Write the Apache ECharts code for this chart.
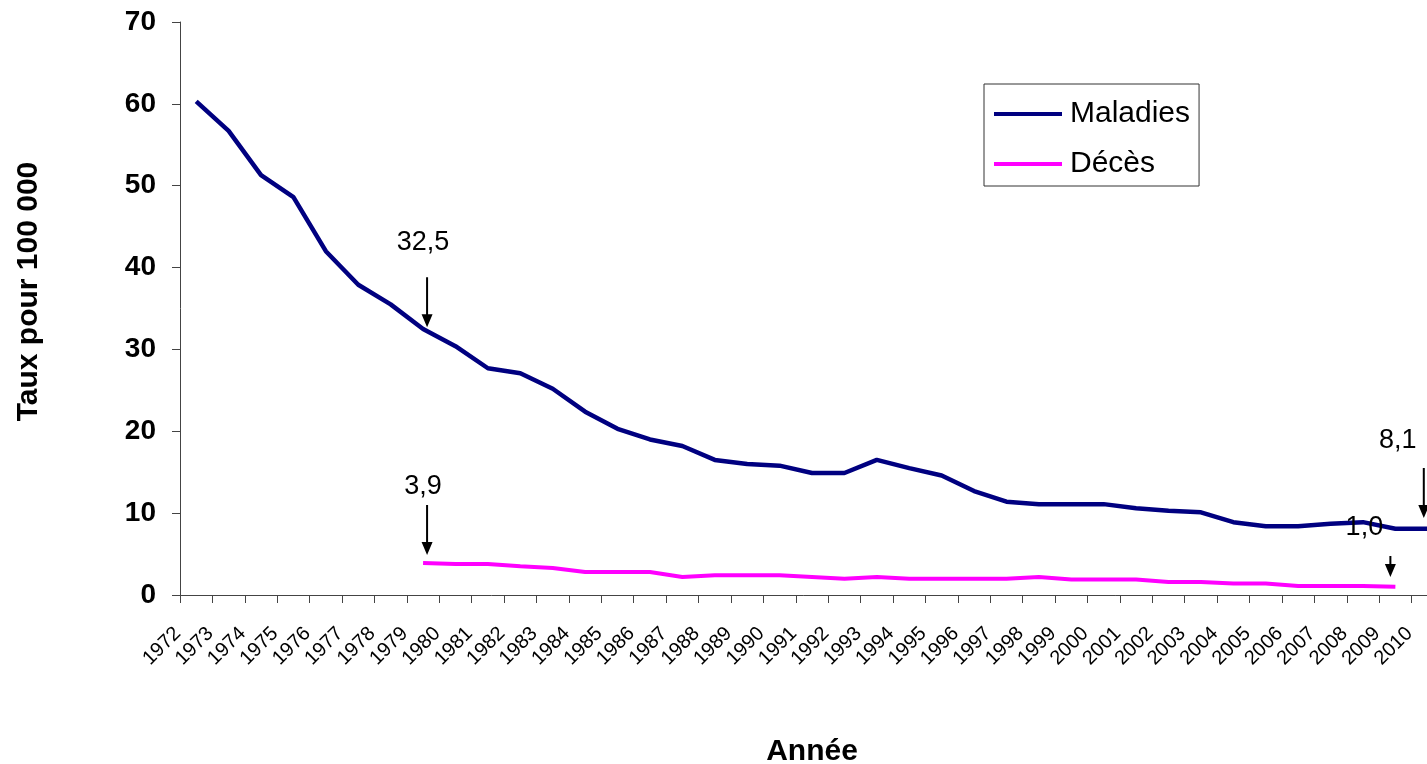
<!DOCTYPE html>
<html>
<head>
<meta charset="utf-8">
<title>Taux pour 100 000</title>
<script src="https://cdn.jsdelivr.net/npm/echarts@6/dist/echarts.min.js"></script>
<style>
  html, body { margin: 0; padding: 0; background: #fff; }
  #main { width: 1427px; height: 764px; }
</style>
</head>
<body>
<div id="main"></div>
<script>
  // années 1972 -> 2010
  var years = ['1972', '1973', '1974', '1975', '1976', '1977', '1978', '1979', '1980', '1981',
    '1982', '1983', '1984', '1985', '1986', '1987', '1988', '1989', '1990', '1991',
    '1992', '1993', '1994', '1995', '1996', '1997', '1998', '1999', '2000', '2001',
    '2002', '2003', '2004', '2005', '2006', '2007', '2008', '2009', '2010']

  var maladies = [60.3, 56.7, 51.3, 48.6, 42.0, 37.9, 35.5, 32.5, 30.4, 27.7,
    27.1, 25.2, 22.4, 20.3, 19.0, 18.2, 16.5, 16.0, 15.8, 14.9,
    14.9, 16.5, 15.5, 14.6, 12.7, 11.4, 11.1, 11.1, 11.1, 10.6,
    10.3, 10.1, 8.9, 8.4, 8.4, 8.7, 8.9, 8.1, 8.1]

  // pas de données de décès avant 1979 ni pour 2010
  var deces = [null, null, null, null, null, null, null, 3.9, 3.8, 3.8,
    3.5, 3.3, 2.8, 2.8, 2.8, 2.2, 2.4, 2.4, 2.4, 2.2,
    2.0, 2.2, 2.0, 2.0, 2.0, 2.0, 2.2, 1.9, 1.9, 1.9,
    1.6, 1.6, 1.4, 1.4, 1.1, 1.1, 1.1, 1.0, null]

  var yTicks = [0, 10, 20, 30, 40, 50, 60, 70]

  // flèches : index de l'année, pointe de la flèche, position du texte
  var annotMaladies = [
    {idx: 7, tip: 32.7, len: 50, dx: 4, textY: 43.0, textDx: 0},
    {idx: 38, tip: 9.4, len: 50, dx: -4, textY: 18.9, textDx: -30}
  ]
  var annotDeces = [
    {idx: 7, tip: 4.9, len: 50, dx: 4, textY: 13.2, textDx: 0},
    {idx: 37, tip: 2.2, len: 21, dx: -5, textY: 8.3, textDx: -31}
  ]

  function fmt (v) {
    return v.toFixed(1).replace('.', ',')
  }

  // flèche verticale vers le bas, pointe en bas
  function arrowPath (len) {
    var h = len - 13
    return 'path://M4.5,0L6.5,0L6.5,' + h + 'L11,' + h + 'L5.5,' + len + 'L0,' + h + 'L4.5,' + h + 'Z'
  }

  function markers (list, values) {
    var out = []
    list.forEach(function (a) {
      out.push({
        coord: [a.idx, a.tip],
        symbol: arrowPath(a.len),
        symbolSize: [11, a.len],
        symbolKeepAspect: false,
        symbolOffset: [a.dx, -a.len / 2],
        itemStyle: {color: '#000'},
        label: {show: false}
      })
      out.push({
        coord: [a.idx, a.textY],
        value: fmt(values[a.idx]),
        symbol: 'circle',
        symbolSize: 0,
        label: {show: true, offset: [a.textDx, 0]}
      })
    })
    return out
  }

  var markPointStyle = {
    silent: true,
    label: {
      position: 'inside',
      color: '#000',
      fontFamily: 'Liberation Sans',
      fontSize: 27,
      formatter: function (p) { return p.value }
    }
  }

  var chart = echarts.init(document.getElementById('main'))

  var option = {
    animation: false,
    backgroundColor: '#fff',
    textStyle: {fontFamily: 'Liberation Sans'},
    grid: {left: 180, top: 22, width: 1264, height: 573, containLabel: false, outerBoundsMode: 'none'},
    legend: {
      orient: 'vertical',
      left: 984,
      top: 84,
      icon: 'rect',
      itemWidth: 68,
      itemHeight: 4,
      itemGap: 20,
      padding: [15, 9, 7, 10],
      borderColor: '#333',
      borderWidth: 1,
      textStyle: {
        fontFamily: 'Liberation Sans',
        fontSize: 30,
        lineHeight: 30,
        color: '#000',
        padding: [0, 0, 0, 3]
      },
      data: ['Maladies', 'Décès']
    },
    xAxis: {
      type: 'category',
      data: years,
      boundaryGap: true,
      name: 'Année',
      nameLocation: 'middle',
      nameGap: 142,
      nameTextStyle: {fontFamily: 'Liberation Sans', fontSize: 30, fontWeight: 'bold', color: '#000'},
      axisLine: {lineStyle: {color: '#444', width: 1}},
      axisTick: {show: true, length: 8, lineStyle: {color: '#444'}},
      axisLabel: {
        interval: 0,
        rotate: 45,
        margin: 17,
        fontFamily: 'Liberation Sans',
        fontSize: 20,
        color: '#000',
        // bloc transparent à droite pour décaler le texte comme dans Excel
        formatter: function (v) { return '{y|' + v + '}{s|0}' },
        rich: {
          y: {fontFamily: 'Liberation Sans', fontSize: 20, color: '#000'},
          s: {fontFamily: 'Liberation Sans', fontSize: 20, width: 26, color: 'rgba(0,0,0,0)'}
        }
      },
      splitLine: {show: false}
    },
    yAxis: {
      type: 'value',
      min: yTicks[0],
      max: yTicks[yTicks.length - 1],
      interval: 10,
      name: 'Taux pour 100 000',
      nameLocation: 'middle',
      nameRotate: 90,
      nameGap: 136,
      nameTextStyle: {
        fontFamily: 'Liberation Sans',
        fontSize: 30,
        fontWeight: 'bold',
        color: '#000',
        padding: [0, 0, 0, 34]
      },
      axisLine: {show: true, lineStyle: {color: '#444', width: 1}},
      axisTick: {show: true, length: 8, lineStyle: {color: '#444'}},
      axisLabel: {
        margin: 24,
        fontFamily: 'Liberation Sans',
        fontSize: 28,
        fontWeight: 'bold',
        color: '#000'
      },
      splitLine: {show: false}
    },
    series: [
      {
        name: 'Maladies',
        type: 'line',
        data: maladies,
        symbol: 'none',
        color: '#000080',
        lineStyle: {color: '#000080', width: 4.5},
        markPoint: Object.assign({data: markers(annotMaladies, maladies)}, markPointStyle)
      },
      {
        name: 'Décès',
        type: 'line',
        data: deces,
        symbol: 'none',
        color: '#FF00FF',
        lineStyle: {color: '#FF00FF', width: 4},
        markPoint: Object.assign({data: markers(annotDeces, deces)}, markPointStyle)
      }
    ]
  }

  chart.setOption(option)
</script>
</body>
</html>
